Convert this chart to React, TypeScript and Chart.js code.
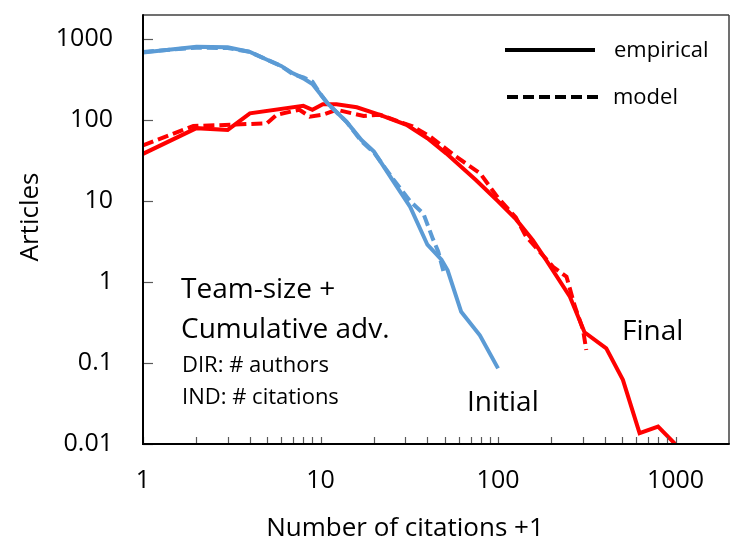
import React, { useEffect, useRef } from "react";
import { Chart, registerables } from "chart.js";

Chart.register(...registerables);

const FONT = "'Open Sans', 'Noto Sans', sans-serif";

// Axis ticks
const xTickValues = [1, 10, 100, 1000];
const xMinorValues = [2, 3, 4, 5, 6, 7, 8, 9, 20, 30, 40, 50, 60, 70, 80, 90, 200, 300, 400, 500, 600, 700, 800, 900];
const yTickValues = [0.01, 0.1, 1, 10, 100, 1000];

// Initial distribution (blue)
const initialEmpiricalX = [1, 2, 3, 4, 5, 6, 7, 8, 9, 10, 11, 14, 17, 20, 26, 32, 40, 48, 52, 62, 79, 100];
const initialEmpiricalY = [690, 810, 800, 700, 560, 470, 380, 330, 280, 210, 160, 96, 57, 41, 17, 8.5, 2.9, 1.9, 1.4, 0.43, 0.22, 0.086];
const initialModelX = [1, 2, 3, 4, 5, 6, 7, 8, 9, 10, 11, 14, 17, 20, 26, 32, 38, 43, 46, 50];
const initialModelY = [700, 790, 780, 700, 560, 470, 370, 340, 300, 210, 160, 96, 55, 40, 18, 10, 7, 3.4, 2.4, 1.2];

// Final distribution (red)
const finalEmpiricalX = [1, 2, 3, 4, 8, 9, 10.3, 12.3, 16, 21.6, 30.5, 40, 51, 75, 100, 126, 157, 186, 254, 307, 407, 505, 627, 797, 1000];
const finalEmpiricalY = [38.5, 80, 76, 122, 151, 135, 158, 158, 145, 117, 88, 60, 39, 18.3, 10, 6, 3.3, 1.9, 0.66, 0.24, 0.152, 0.062, 0.0136, 0.0164, 0.0099];
const finalModelX = [1, 1.92, 3.1, 5, 5.67, 7.6, 8.7, 10.3, 12.3, 17.5, 21.6, 33, 41.4, 58, 79.4, 100, 126, 144, 204, 243, 271, 301, 314];
const finalModelY = [49, 85, 88, 92, 117, 135, 111, 117, 135, 113, 117, 84, 63, 35.6, 22, 11, 6.3, 3.65, 1.55, 1.17, 0.5, 0.26, 0.145];

const BLUE = "#5B9BD5";
const RED = "#FF0000";

const pts = (xs: number[], ys: number[]) => xs.map((x, i) => ({ x, y: ys[i] }));

export default function App() {
  const ref = useRef<HTMLCanvasElement>(null);

  useEffect(() => {
    if (!ref.current) return;

    const decor = {
      id: "decor",
      afterDatasetsDraw(chart: any) {
        const { ctx, chartArea: a, scales } = chart;
        const xs = scales.x;
        const ys = scales.y;
        ctx.save();
        const seg = (x1: number, y1: number, x2: number, y2: number) => {
          ctx.beginPath();
          ctx.moveTo(x1, y1);
          ctx.lineTo(x2, y2);
          ctx.stroke();
        };
        // tick marks
        ctx.strokeStyle = "#595959";
        ctx.lineWidth = 1.2;
        [...xTickValues, ...xMinorValues].forEach((v) => {
          const px = Math.round(xs.getPixelForValue(v)) + 0.5;
          seg(px, a.bottom, px, a.bottom - 7);
        });
        yTickValues.forEach((v) => {
          const py = Math.round(ys.getPixelForValue(v)) + 0.5;
          seg(a.left, py, a.left + 10, py);
        });
        // frame
        ctx.strokeStyle = "#404040";
        ctx.lineWidth = 1.5;
        seg(a.left, a.top, a.right, a.top);
        seg(a.right, a.top, a.right, a.bottom);
        ctx.strokeStyle = "#000";
        ctx.lineWidth = 2;
        seg(a.left, a.top - 0.75, a.left, a.bottom + 1);
        seg(a.left - 1, a.bottom, a.right + 0.75, a.bottom);

        // legend
        ctx.strokeStyle = "#000";
        ctx.lineWidth = 4;
        ctx.setLineDash([]);
        seg(505, 50, 595, 50);
        ctx.setLineDash([11, 5]);
        seg(507, 97, 598, 97);
        ctx.setLineDash([]);

        ctx.fillStyle = "#000";
        ctx.textBaseline = "alphabetic";
        ctx.textAlign = "left";
        ctx.font = `22px ${FONT}`;
        ctx.fillText("empirical", 614, 57);
        ctx.fillText("model", 613, 104);

        // annotations
        ctx.font = `28px ${FONT}`;
        ctx.fillText("Team-size +", 181, 298);
        ctx.fillText("Cumulative adv.", 181, 338);
        ctx.font = `22px ${FONT}`;
        ctx.fillText("DIR: # authors", 182, 372);
        ctx.fillText("IND: # citations", 182, 404);
        ctx.font = `28px ${FONT}`;
        ctx.fillText("Initial", 467, 411);
        ctx.fillText("Final", 622, 340);

        // axis titles
        ctx.font = `26px ${FONT}`;
        ctx.textAlign = "center";
        ctx.fillText("Number of citations +1", 405, 536);
        ctx.save();
        ctx.translate(38, 217);
        ctx.rotate(-Math.PI / 2);
        ctx.fillText("Articles", 0, 0);
        ctx.restore();

        ctx.restore();
      },
    };

    const zeroPad = (s: any) => {
      s.paddingTop = 0;
      s.paddingBottom = 0;
      s.paddingLeft = 0;
      s.paddingRight = 0;
    };

    const chart = new Chart(ref.current, {
      type: "line",
      data: {
        datasets: [
          {
            label: "Initial empirical",
            data: pts(initialEmpiricalX, initialEmpiricalY),
            borderColor: BLUE,
            borderWidth: 4,
            pointRadius: 0,
            tension: 0,
          },
          {
            label: "Initial model",
            data: pts(initialModelX, initialModelY),
            borderColor: BLUE,
            borderWidth: 4,
            borderDash: [11, 5],
            pointRadius: 0,
            tension: 0,
          },
          {
            label: "Final empirical",
            data: pts(finalEmpiricalX, finalEmpiricalY),
            borderColor: RED,
            borderWidth: 4,
            pointRadius: 0,
            tension: 0,
          },
          {
            label: "Final model",
            data: pts(finalModelX, finalModelY),
            borderColor: RED,
            borderWidth: 4,
            borderDash: [11, 5],
            pointRadius: 0,
            tension: 0,
          },
        ],
      },
      options: {
        responsive: false,
        animation: false,
        devicePixelRatio: 1,
        layout: { padding: { left: 0, right: 17, top: 15, bottom: 0 } },
        plugins: { legend: { display: false }, tooltip: { enabled: false } },
        scales: {
          x: {
            type: "logarithmic",
            min: 1,
            max: 2000,
            grid: { display: false, drawTicks: false },
            border: { display: false },
            ticks: {
              font: { family: FONT, size: 25 },
              color: "#000",
              padding: 22,
              maxRotation: 0,
              autoSkip: false,
              callback: (v: any) => String(Number(v)),
            },
            afterBuildTicks: (s: any) => {
              s.ticks = xTickValues.map((v) => ({ value: v }));
            },
            afterFit: (s: any) => {
              s.height = 109;
              zeroPad(s);
            },
          },
          y: {
            type: "logarithmic",
            min: 0.01,
            max: 2000,
            grid: { display: false, drawTicks: false },
            border: { display: false },
            ticks: {
              font: { family: FONT, size: 25 },
              color: "#000",
              padding: 30,
              autoSkip: false,
              callback: (v: any) => String(Number(v)),
            },
            afterBuildTicks: (s: any) => {
              s.ticks = yTickValues.map((v) => ({ value: v }));
            },
            afterFit: (s: any) => {
              s.width = 143;
              zeroPad(s);
            },
          },
        },
      },
      plugins: [decor],
    });

    return () => chart.destroy();
  }, []);

  return (
    <div style={{ position: "fixed", left: 0, top: 0, width: 746, height: 553, background: "#fff" }}>
      <canvas ref={ref} width={746} height={553} style={{ display: "block" }} />
    </div>
  );
}
